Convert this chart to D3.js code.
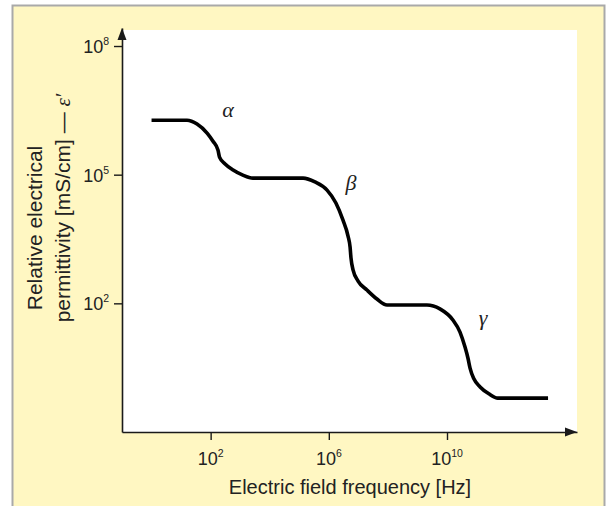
<!DOCTYPE html>
<html>
<head>
<meta charset="utf-8">
<script src="https://cdn.jsdelivr.net/npm/d3@7"></script>
<style>
  body { margin: 0; background: #ffffff; }
  svg { display: block; }
</style>
</head>
<body>
<div class="chart"></div>
<script>
const width = 607;
const height = 506;

// curve, as powers of ten
const freqExp = [0.0, 1.20, 1.54, 1.88, 2.08, 2.25, 2.30, 2.49, 2.76, 3.09, 3.43,
  5.13, 5.53, 5.94, 6.24, 6.48, 6.65, 6.72, 6.75, 6.82, 6.99, 7.29, 7.63, 7.97,
  9.32, 9.76, 10.20, 10.44, 10.61, 10.71, 10.78, 10.91, 11.12, 11.42, 11.72, 13.42];
const permExp = [6.27, 6.27, 6.18, 5.97, 5.78, 5.57, 5.41, 5.25, 5.11, 4.99, 4.92,
  4.92, 4.83, 4.64, 4.34, 3.94, 3.57, 3.31, 3.06, 2.78, 2.52, 2.31, 2.10, 1.96,
  1.96, 1.87, 1.61, 1.33, 0.98, 0.72, 0.49, 0.24, 0.05, -0.11, -0.21, -0.21];

const xTickExp = [2, 6, 10];
const yTickExp = [2, 5, 8];

// dispersion regions: label, position (powers of ten)
const regionLabels = ["α", "β", "γ"];
const regionFreqExp = [2.59, 6.75, 11.22];
const regionPermExp = [6.34, 4.64, 1.49];

const xTitle = "Electric field frequency [Hz]";
const yTitleLines = ["Relative electrical", "permittivity [mS/cm] — "];

const plot = { left: 122, right: 577, top: 28, bottom: 432 };

const svg = d3.select(".chart")
  .append("svg")
  .attr("width", width)
  .attr("height", height)
  .style("font-family", "'Liberation Sans', Arial, sans-serif");

// outer frame
svg.append("rect")
  .attr("x", 12.5).attr("y", 5.5)
  .attr("width", 592).attr("height", 510)
  .attr("fill", "#fff7c2")
  .attr("stroke", "#a9a9a9")
  .attr("stroke-width", 2);

// white plot panel
svg.append("rect")
  .attr("x", plot.left).attr("y", plot.top + 2)
  .attr("width", plot.right - plot.left)
  .attr("height", plot.bottom - plot.top - 2)
  .attr("fill", "#ffffff");

const x = d3.scaleLog()
  .domain([1e-1, Math.pow(10, 14.4)])
  .range([plot.left, plot.right]);

const y = d3.scaleLog()
  .domain([1e-1, Math.pow(10, 8.42)])
  .range([plot.bottom, plot.top]);

const axisColor = "#1a1a1a";

// x axis
const xAxis = svg.append("g")
  .attr("transform", `translate(0,${plot.bottom})`)
  .call(d3.axisBottom(x)
    .tickValues(xTickExp.map(e => Math.pow(10, e)))
    .tickSize(8)
    .tickSizeOuter(0)
    .tickFormat(() => ""));

// y axis
const yAxis = svg.append("g")
  .attr("transform", `translate(${plot.left},0)`)
  .call(d3.axisLeft(y)
    .tickValues(yTickExp.map(e => Math.pow(10, e)))
    .tickSize(8)
    .tickSizeOuter(0)
    .tickFormat(() => ""));

[xAxis, yAxis].forEach(a => {
  a.select(".domain").attr("stroke", axisColor).attr("stroke-width", 1.6);
  a.selectAll(".tick line").attr("stroke", axisColor).attr("stroke-width", 1.4);
});

// arrow heads at axis ends
const xEnd = x.range()[1];
const yEnd = y.range()[1];
svg.append("path")
  .attr("d", `M${xEnd},${plot.bottom} L${xEnd - 12},${plot.bottom - 4.5} L${xEnd - 12},${plot.bottom + 4.5} Z`)
  .attr("fill", axisColor);
svg.append("path")
  .attr("d", `M${plot.left},${yEnd} L${plot.left - 4.5},${yEnd + 12} L${plot.left + 4.5},${yEnd + 12} Z`)
  .attr("fill", axisColor);

// tick labels: 10 with superscript
function powerLabel(sel, e) {
  sel.append("tspan").text("10");
  sel.append("tspan")
    .attr("dy", -8)
    .attr("font-size", 10.5)
    .text(e);
}

xTickExp.forEach(e => {
  const t = svg.append("text")
    .attr("x", x(Math.pow(10, e)))
    .attr("y", 465)
    .attr("text-anchor", "middle")
    .attr("font-size", 18)
    .attr("fill", "#222");
  powerLabel(t, e);
});

yTickExp.forEach(e => {
  const t = svg.append("text")
    .attr("x", plot.left - 13)
    .attr("y", y(Math.pow(10, e)) + 7)
    .attr("text-anchor", "end")
    .attr("font-size", 18)
    .attr("fill", "#222");
  powerLabel(t, e);
});

// axis titles
svg.append("text")
  .attr("x", 350)
  .attr("y", 494)
  .attr("text-anchor", "middle")
  .attr("font-size", 20)
  .attr("fill", "#222")
  .text(xTitle);

const yTitle = svg.append("text")
  .attr("transform", "rotate(-90)")
  .attr("text-anchor", "middle")
  .attr("font-size", 21)
  .attr("fill", "#222");
yTitle.append("tspan")
  .attr("x", -228).attr("y", 42)
  .text(yTitleLines[0]);
const line2 = yTitle.append("tspan")
  .attr("x", -208).attr("y", 70)
  .text(yTitleLines[1]);
line2.append("tspan")
  .attr("font-family", "'Liberation Serif', 'DejaVu Serif', serif")
  .attr("font-style", "italic")
  .text("ε′");

// curve
const points = freqExp.map((f, i) => [Math.pow(10, f), Math.pow(10, permExp[i])]);
const line = d3.line()
  .x(d => x(d[0]))
  .y(d => y(d[1]))
  .curve(d3.curveMonotoneX);

svg.append("path")
  .datum(points)
  .attr("d", line)
  .attr("fill", "none")
  .attr("stroke", "#000")
  .attr("stroke-width", 3.6);

// greek region labels
svg.selectAll(".region")
  .data(regionLabels)
  .enter().append("text")
  .attr("class", "region")
  .attr("x", (d, i) => x(Math.pow(10, regionFreqExp[i])))
  .attr("y", (d, i) => y(Math.pow(10, regionPermExp[i])))
  .attr("text-anchor", "middle")
  .attr("font-family", "'Liberation Serif', 'DejaVu Serif', serif")
  .attr("font-style", "italic")
  .attr("font-size", 22)
  .attr("fill", "#222")
  .text(d => d);
</script>
</body>
</html>
